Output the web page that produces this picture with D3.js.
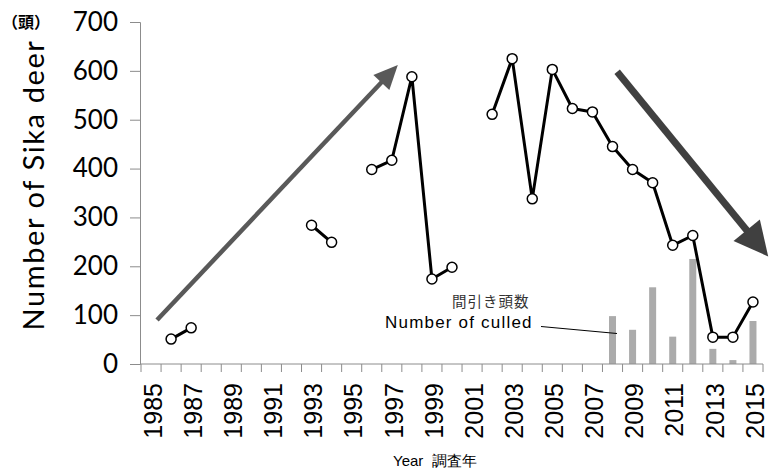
<!DOCTYPE html>
<html><head><meta charset="utf-8">
<script src="https://cdn.jsdelivr.net/npm/d3@7/dist/d3.min.js"></script>
<style>body{margin:0;background:#fff}svg{display:block}</style>
</head><body>
<svg id="chart" width="775" height="469"></svg>
<script>
// ---- data ----
const years = d3.range(1985, 2016);
const deerYears  = [1986,1987,1993,1994,1996,1997,1998,1999,2000,2002,2003,2004,2005,2006,2007,2008,2009,2010,2011,2012,2013,2014,2015];
const deerValues = [51,74,284,249,398,417,588,174,198,511,625,338,603,523,516,445,398,371,243,263,55,55,127];
const culledYears  = [2008,2009,2010,2011,2012,2013,2014,2015];
const culledValues = [98,70,157,56,215,31,8,88];
const yTicks = [0,100,200,300,400,500,600,700];
const xTickLabels = d3.range(1985, 2016, 2);
// trend arrows (year, value)
const arrowUp   = [[1985.3, 90],[1997.3, 612]];
const arrowDown = [[2008.23, 598],[2015.76, 220]];

(function(){
const svg = d3.select("#chart");
const mLeft = 141, mRight = 763, mTop = 22, mBottom = 364;

const x = d3.scaleBand().domain(years).range([mLeft, mRight]).padding(0);
const xc = d => x(d) + x.bandwidth()/2;
const xl = d3.scaleLinear().domain([1985, 2015]).range([xc(1985), xc(2015)]);
const y = d3.scaleLinear().domain([0, 700]).range([mBottom, mTop]);

const axisColor = "#8c8c8c";

// bars
svg.append("g").selectAll("rect").data(culledYears.map((yr,i)=>({yr, v:culledValues[i]})))
  .join("rect")
  .attr("x", d => xc(d.yr) - 3.5)
  .attr("width", 7)
  .attr("y", d => y(d.v))
  .attr("height", d => y(0) - y(d.v))
  .attr("fill", "#ababab");

// y axis
const gy = svg.append("g").attr("transform", `translate(${mLeft - 1},0)`)
  .call(d3.axisLeft(y).tickValues(yTicks).tickSize(10).tickPadding(12));
gy.select(".domain").attr("stroke", axisColor);
gy.selectAll(".tick line").attr("stroke", axisColor);
gy.selectAll("text").attr("font-family", "Lato, 'Open Sans', sans-serif").attr("font-size", 26).attr("fill", "#000");

// x axis line & ticks at category boundaries
svg.append("line").attr("x1", mLeft - 1).attr("x2", mRight).attr("y1", mBottom).attr("y2", mBottom).attr("stroke", axisColor);
svg.append("g").selectAll("line").data(d3.range(years.length + 1)).join("line")
  .attr("x1", i => mLeft + i * x.bandwidth()).attr("x2", i => mLeft + i * x.bandwidth())
  .attr("y1", mBottom).attr("y2", mBottom + 8).attr("stroke", axisColor);
svg.append("g").selectAll("text").data(xTickLabels).join("text")
  .attr("transform", d => `translate(${xc(d) + 2},${mBottom + 19}) rotate(-90)`)
  .attr("text-anchor", "end").attr("dy", "0.35em")
  .attr("font-family", "'Liberation Sans', Arial, sans-serif").attr("font-size", 25)
  .text(d => d);

// line
const pts = years.map(yr => { const i = deerYears.indexOf(yr); return {yr, v: i >= 0 ? deerValues[i] : null}; });
const line = d3.line().defined(d => d.v !== null).x(d => xc(d.yr)).y(d => y(d.v));
svg.append("path").attr("d", line(pts)).attr("fill", "none").attr("stroke", "#000").attr("stroke-width", 3).attr("stroke-linejoin", "round");
svg.append("g").selectAll("circle").data(pts.filter(d => d.v !== null)).join("circle")
  .attr("cx", d => xc(d.yr)).attr("cy", d => y(d.v)).attr("r", 5)
  .attr("fill", "#fff").attr("stroke", "#000").attr("stroke-width", 1.5);

// arrows
function arrow(a, width, headLen, headHalf, color) {
  const x1 = xl(a[0][0]), y1 = y(a[0][1]), x2 = xl(a[1][0]), y2 = y(a[1][1]);
  const ang = Math.atan2(y2 - y1, x2 - x1);
  const bx = x2 - headLen * Math.cos(ang), by = y2 - headLen * Math.sin(ang);
  svg.append("line").attr("x1", x1).attr("y1", y1).attr("x2", bx + Math.cos(ang)).attr("y2", by + Math.sin(ang))
    .attr("stroke", color).attr("stroke-width", width);
  const px = -Math.sin(ang), py = Math.cos(ang);
  svg.append("polygon").attr("points", [[x2, y2],[bx + px*headHalf, by + py*headHalf],[bx - px*headHalf, by - py*headHalf]].map(p => p.join(",")).join(" "))
    .attr("fill", color);
}
arrow(arrowUp, 4.5, 24, 11, "#595959");
arrow(arrowDown, 7, 34, 17, "#404040");

// annotation
svg.append("text").attr("x", 452).attr("y", 307).attr("font-family", "'Noto Sans CJK JP', sans-serif").attr("font-size", 14.5)
  .attr("fill", "#333").attr("letter-spacing", 1).text("間引き頭数");
svg.append("text").attr("x", 385).attr("y", 328).attr("font-family", "'Liberation Sans', Arial, sans-serif").attr("font-size", 17)
  .attr("letter-spacing", 1.2).attr("fill", "#000").text("Number of culled");
svg.append("line").attr("x1", 541).attr("y1", 326.5).attr("x2", 617).attr("y2", 333.5).attr("stroke", "#000").attr("stroke-width", 1);

// axis titles
svg.append("text").attr("transform", `translate(44,185) rotate(-90)`).attr("text-anchor", "middle")
  .attr("font-family", "Lato, 'Open Sans', sans-serif").attr("font-size", 29).attr("letter-spacing", 1.6)
  .text("Number of Sika deer");
svg.append("text").attr("x", 2).attr("y", 28).attr("font-family", "'Noto Sans CJK JP', sans-serif").attr("font-weight", "bold")
  .attr("font-size", 16).text("（頭）");
svg.append("text").attr("x", 393).attr("y", 466).attr("font-family", "'Liberation Sans', Arial, sans-serif")
  .attr("font-size", 15).attr("xml:space", "preserve").text("Year  調査年");
})();
</script>
</body></html>
